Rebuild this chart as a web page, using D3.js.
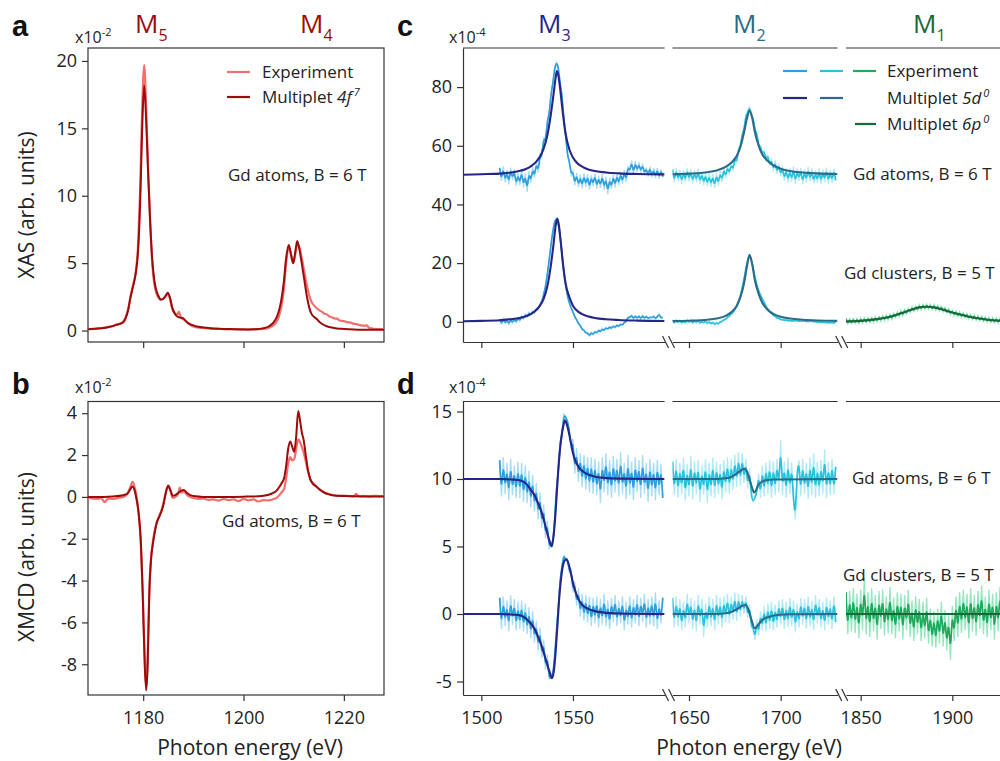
<!DOCTYPE html>
<html>
<head>
<meta charset="utf-8">
<script src="https://cdn.jsdelivr.net/npm/d3@7"></script>
<style>
  body { margin: 0; background: #fff; }
  svg { display: block; font-family: 'Open Sans', 'Noto Sans', sans-serif; }
  .axis text { font-size: 18px; fill: #222; font-family: 'Open Sans', sans-serif; }
  .axis path, .axis line { stroke: #333; stroke-width: 1.2; }
  .frame { fill: none; stroke: #333; stroke-width: 1.2; }
</style>
</head>
<body>
<div id="chart"></div>
<script>
// ---------- panel a: XAS M4,5 (x10^-2) ----------
const xasMultiplet = [
  [1169,0.1],[1171,0.15],[1173,0.25],[1174.5,0.4],[1176,0.6],[1176.5,0.9],[1177,1.5],[1177.5,2.5],[1178,3.3],[1178.5,4.2],
  [1179,6.0],[1179.4,9.5],[1179.8,15.0],[1180.2,18.2],[1180.6,15.5],[1181,11.5],[1181.4,8.0],[1181.8,5.3],[1182.2,3.8],[1182.6,3.0],
  [1183,2.6],[1183.5,2.3],[1184,2.35],[1184.5,2.6],[1184.9,2.8],[1185.3,2.5],[1185.8,1.7],[1186.3,1.25],[1187,1.0],[1187.5,0.95],
  [1188,0.9],[1188.5,0.7],[1189,0.55],[1190,0.38],[1191,0.28],[1192,0.22],[1194,0.16],[1196,0.12],[1198,0.1],[1200,0.08],
  [1202,0.1],[1203,0.12],[1204,0.18],[1205,0.3],[1206,0.6],[1206.5,0.9],[1207,1.4],[1207.5,2.2],[1208,3.5],[1208.5,5.4],
  [1209,6.35],[1209.4,5.8],[1209.9,5.0],[1210.3,5.8],[1210.7,6.65],[1211.1,6.1],[1211.6,5.0],[1212.1,3.8],[1212.6,2.6],[1213.1,1.7],
  [1213.6,1.2],[1214.1,1.0],[1214.6,0.85],[1215.1,0.65],[1215.6,0.5],[1216.6,0.32],[1217.6,0.22],[1218.6,0.16],[1220,0.12],[1222,0.08],
  [1224,0.06],[1226,0.05],[1228,0.05]
];
const xasExperiment = [
  [1169,0.12],[1170,0.1],[1171,0.16],[1172,0.2],[1173,0.27],[1174,0.33],[1174.5,0.42],[1175,0.45],[1176,0.65],[1176.5,1.0],
  [1177,1.6],[1177.5,2.6],[1178,3.4],[1178.5,4.3],[1179,6.5],[1179.4,10.5],[1179.8,16.5],[1180.2,19.7],[1180.6,16.5],[1181,11.8],
  [1181.4,8.0],[1181.8,5.0],[1182.2,3.5],[1182.6,2.8],[1183,2.45],[1183.5,2.3],[1184,2.35],[1184.5,2.55],[1184.9,2.7],[1185.3,2.4],
  [1185.8,1.6],[1186.3,1.3],[1186.8,1.2],[1187.1,1.4],[1187.5,1.0],[1188,0.85],[1188.5,0.7],[1189,0.5],[1190,0.3],[1191,0.22],
  [1192,0.2],[1193,0.15],[1194,0.12],[1195,0.13],[1196,0.1],[1197,0.09],[1198,0.11],[1199,0.08],[1200,0.1],[1201,0.07],
  [1202,0.08],[1203,0.1],[1204,0.12],[1205,0.2],[1206,0.4],[1206.5,0.6],[1207,1.0],[1207.5,1.7],[1208,2.9],[1208.5,5.0],
  [1209,6.2],[1209.4,5.7],[1209.9,5.0],[1210.3,5.6],[1210.7,6.4],[1211.1,6.2],[1211.6,5.4],[1212.1,4.4],[1212.6,3.4],[1213.1,2.6],
  [1213.6,2.1],[1214.1,1.85],[1214.6,1.65],[1215.1,1.5],[1215.6,1.4],[1216.1,1.25],[1216.6,1.2],[1217.1,1.05],[1217.6,0.98],[1218.1,0.9],
  [1218.6,0.88],[1219.2,0.75],[1220,0.7],[1220.6,0.62],[1221.2,0.6],[1222,0.5],[1222.6,0.48],[1223.2,0.4],[1224,0.36],[1224.6,0.38],
  [1225,0.2],[1226,0.12],[1227,0.1],[1228,0.1]
];

// ---------- panel b: XMCD M4,5 (x10^-2) ----------
const xmcdMultiplet = [
  [1169,0],[1172,0],[1174,0.02],[1176,0.08],[1176.8,0.15],[1177.4,0.35],[1177.9,0.5],[1178.3,0.3],[1178.7,-0.15],[1179.1,-0.8],
  [1179.5,-2.0],[1179.9,-4.6],[1180.3,-8.0],[1180.6,-9.25],[1180.9,-8.0],[1181.2,-4.8],[1181.6,-2.9],[1181.9,-2.3],[1182.3,-1.7],[1182.7,-1.25],
  [1183.2,-0.95],[1183.7,-0.65],[1184.1,-0.3],[1184.5,0.2],[1185,0.55],[1185.4,0.35],[1185.9,0.05],[1186.4,0.08],[1187,0.2],[1187.6,0.3],
  [1188.1,0.33],[1188.7,0.2],[1189.3,0.1],[1190,0.04],[1192,0],[1196,0],[1200,0.01],[1203,0.03],[1204,0.05],[1205,0.1],
  [1206,0.2],[1206.6,0.3],[1207.2,0.5],[1207.7,0.7],[1208.1,0.9],[1208.5,1.5],[1208.9,2.3],[1209.3,2.65],[1209.7,2.4],[1210.1,2.15],
  [1210.5,2.9],[1210.9,4.1],[1211.3,3.6],[1211.6,3.1],[1212,2.7],[1212.4,2.0],[1212.8,1.35],[1213.3,0.85],[1213.9,0.6],[1214.5,0.5],
  [1215.2,0.35],[1216,0.22],[1217,0.12],[1218,0.07],[1220,0.04],[1224,0.02],[1228,0.02]
];
const xmcdExperiment = [
  [1169,-0.05],[1170,-0.08],[1171,-0.1],[1171.6,-0.05],[1172.3,-0.25],[1173,-0.08],[1174,-0.1],[1175,-0.05],[1176,0.0],[1176.8,0.12],
  [1177.4,0.45],[1177.9,0.72],[1178.3,0.45],[1178.7,0.0],[1179.1,-0.8],[1179.5,-2.1],[1179.9,-4.5],[1180.3,-7.6],[1180.6,-9.05],[1180.9,-7.5],
  [1181.2,-4.6],[1181.6,-2.8],[1181.9,-2.2],[1182.3,-1.6],[1182.7,-1.2],[1183.2,-0.9],[1183.7,-0.6],[1184.1,-0.25],[1184.5,0.2],[1185,0.5],
  [1185.4,0.3],[1185.9,-0.05],[1186.4,0.0],[1187,0.15],[1187.3,0.45],[1187.6,0.2],[1188.1,0.25],[1188.7,0.1],[1189.3,0.0],[1190,-0.05],
  [1191,-0.1],[1192,-0.08],[1193,-0.14],[1194,-0.12],[1195,-0.18],[1196,-0.1],[1197,-0.15],[1198,-0.12],[1199,-0.2],[1200,-0.1],
  [1201,-0.16],[1202,-0.12],[1203,-0.22],[1204,-0.15],[1205,-0.17],[1206,-0.1],[1206.6,-0.05],[1207.2,0.1],[1207.7,0.25],[1208.1,0.4],
  [1208.5,0.9],[1208.9,1.6],[1209.3,1.9],[1209.7,1.75],[1210.1,1.8],[1210.5,2.3],[1210.9,2.75],[1211.3,2.6],[1211.6,2.4],[1212,2.1],
  [1212.4,1.7],[1212.8,1.25],[1213.3,0.85],[1213.9,0.65],[1214.5,0.5],[1215.2,0.35],[1216,0.22],[1217,0.14],[1218,0.08],[1219,0.05],
  [1220,0.06],[1221,0.04],[1222,0.02],[1222.4,0.15],[1223,0.03],[1224,0.05],[1225,0.02],[1226,0.05],[1227,0.04],[1228,0.05]
];

// ---------- panels c, d: M1,2,3 edges (x10^-4), experiment on 1 eV grids ----------
const m3Energies = d3.range(1510, 1600);   // 90 points
const m2Energies = d3.range(1641, 1731);   // 90 points
const m1Energies = d3.range(1842, 1928);   // 86 points

const xasM3AtomsExp = [
  52.5,48.0,53.0,47.5,51.8,46.8,52.6,48.4,52.0,46.2, 50.8,46.5,51.9,45.8,50.6,44.2,51.5,47.3,52.8,49.0,
  54.5,50.8,57.0,56.0,63.0,61.0,68.5,70.5,77.5,81.0, 86.5,88.5,87.0,81.0,77.5,69.0,64.0,56.5,55.0,50.0,
  51.5,46.5,50.8,45.8,50.2,45.5,50.6,46.0,50.3,45.0, 50.0,46.2,50.6,45.4,49.8,45.6,50.5,45.0,49.6,43.5,
  49.2,45.3,50.2,45.8,50.6,46.4,51.2,47.0,51.8,47.6, 53.2,51.0,55.0,50.2,54.8,51.0,54.4,50.8,53.9,50.3,
  52.6,49.5,53.0,49.2,52.4,49.0,52.5,48.8,51.9,49.4
];
const xasM3ClustersExp = [
  0.9,-0.8,1.0,-0.6,0.7,-0.9,0.9,-0.5,1.1,-0.3, 1.4,0.2,2.0,0.9,2.6,1.6,3.2,2.3,3.7,3.0,
  4.6,4.2,5.9,6.8,9.2,11.8,16.2,20.8,26.2,30.8, 34.2,35.3,33.6,29.0,23.2,17.0,12.6,8.7,6.5,4.7,
  3.4,1.6,0.8,-0.7,-1.2,-2.7,-2.8,-3.9,-3.8,-4.9, -3.6,-4.5,-3.2,-4.0,-2.7,-3.5,-2.3,-3.1,-1.9,-2.7,
  -1.6,-2.4,-1.3,-2.1,-1.0,-1.7,-0.7,-1.2,-0.2,0.0, 1.6,1.4,2.3,0.9,2.2,1.0,2.2,0.8,2.3,1.0,
  2.0,1.0,1.6,1.3,2.0,1.0,1.7,2.7,1.2,1.5
];
const xasM2AtomsExp = [
  52.0,47.5,52.4,47.9,51.8,47.0,51.6,47.6,52.5,47.8, 52.0,47.2,51.6,47.6,52.2,47.0,51.2,46.6,50.8,46.2,
  50.6,46.0,50.3,45.6,50.8,46.4,51.4,47.6,52.6,49.0, 53.2,50.2,54.0,51.4,56.0,54.0,59.2,59.5,64.0,65.2,
  70.5,71.0,73.5,70.2,69.5,65.0,64.5,59.8,60.0,57.0, 58.4,55.2,57.0,53.2,55.6,51.4,55.0,50.4,54.0,49.6,
  53.2,48.0,52.6,47.4,52.4,47.6,53.0,47.0,52.2,48.0, 52.4,46.8,52.0,47.5,52.8,47.8,52.2,47.2,51.6,47.4,
  52.4,47.0,52.0,47.6,52.6,47.2,51.8,47.4,52.2,48.2
];
const xasM2ClustersExp = [
  0.6,-0.6,0.8,-0.4,0.7,-0.7,0.5,-0.5,0.8,-0.3, 0.7,-0.6,0.6,-0.4,0.7,-0.7,0.4,-0.6,0.5,-0.8,
  0.2,-0.9,0.0,-1.1,-0.1,-1.0,0.1,0.0,0.7,0.8, 1.6,1.8,2.8,3.1,4.4,5.1,6.9,8.7,11.5,14.5,
  18.0,21.0,22.6,21.4,18.2,15.0,12.5,10.5,9.1,7.7, 6.7,5.0,4.5,3.2,3.0,2.0,2.0,1.2,1.3,0.7,
  0.8,0.5,0.6,0.3,0.5,0.2,0.4,0.3,0.5,0.1, 0.3,0.2,0.4,0.0,0.2,0.1,0.3,0.0,0.1,-0.1,
  -0.1,-0.1,-0.2,-0.2,-0.3,-0.3,-0.4,-0.2,-0.5,0.0
];
const xasM1ClustersExp = [
  1.0,-0.7,1.0,-0.6,1.1,-0.5,1.1,-0.6,1.2,-0.5, 1.3,-0.4,1.4,-0.3,1.5,-0.2,1.7,0.0,1.9,0.2,
  2.1,0.4,2.3,0.7,2.6,0.9,2.9,1.4,3.3,1.8, 3.8,2.1,4.2,2.6,4.6,3.1,5.1,3.5,5.4,3.9,
  5.8,4.1,5.9,4.2,6.0,4.3,5.9,4.1,5.8,4.0, 5.6,3.7,5.3,3.4,4.9,3.0,4.5,2.5,4.0,2.1,
  3.7,1.8,3.4,1.5,3.1,1.3,2.8,1.0,2.5,0.7, 2.3,0.5,2.1,0.3,1.9,0.1,1.7,-0.1,1.5,-0.3,
  1.4,-0.4,1.3,-0.5,1.2,-0.5
];

const xasM3AtomsMult = [
  [1490,50.1],[1500,50.3],[1510,50.5],[1515,50.8],[1520,51.3],[1524,52.0],[1527,53.0],[1530,54.6],[1532,56.3],[1534,59.0],
  [1536,63.5],[1538,71],[1539.5,78],[1540.5,83],[1541.2,85.5],[1542,84],[1543,79.5],[1544.5,71],[1546,64],[1548,58.8],
  [1550,56],[1552,54.3],[1555,52.9],[1558,52.0],[1562,51.4],[1568,50.9],[1575,50.6],[1585,50.4],[1600,50.25]
];
const xasM3ClustersMult = [
  [1490,0.15],[1500,0.3],[1510,0.5],[1515,0.8],[1520,1.2],[1524,1.8],[1527,2.6],[1530,4.0],[1532,5.5],[1534,7.8],
  [1536,12],[1538,19.5],[1539.5,27],[1540.5,32.5],[1541.4,35.2],[1542.3,33],[1543.3,27.5],[1544.5,20],[1546,13],[1548,8.5],
  [1550,5.5],[1552,3.9],[1555,2.6],[1558,1.9],[1562,1.3],[1568,0.85],[1575,0.6],[1585,0.4],[1600,0.25]
];
const xasM2AtomsMult = [
  [1641,50.3],[1650,50.5],[1660,51.0],[1665,51.6],[1670,52.8],[1673,54.2],[1676,56.5],[1678,59.5],[1680,64.5],[1681.5,69],
  [1683,72],[1684.5,69.5],[1686,64.5],[1688,60],[1690,57],[1693,54.8],[1696,53.3],[1700,52.2],[1705,51.4],[1712,50.9],
  [1720,50.6],[1731,50.35]
];
const xasM2ClustersMult = [
  [1641,0.2],[1650,0.35],[1660,0.7],[1665,1.1],[1670,2.0],[1673,3.2],[1676,5.4],[1678,8.3],[1680,13],[1681.5,18.5],
  [1683,22.8],[1684.5,19.5],[1686,14],[1688,9.5],[1690,6.5],[1693,4.0],[1696,2.7],[1700,1.7],[1705,1.1],[1712,0.7],
  [1720,0.45],[1731,0.3]
];
const xasM1ClustersMult = [
  [1842,0.1],[1850,0.3],[1858,0.8],[1866,1.7],[1872,2.9],[1878,4.2],[1882,4.9],[1886,5.1],[1890,4.9],[1894,4.3],
  [1898,3.5],[1902,2.8],[1906,2.2],[1910,1.6],[1916,1.0],[1922,0.5],[1930,0.3]
];

const xmcdM3AtomsExp = [
  11.4,8.7,11.6,8.9,11.2,8.4,11.5,8.8,11.0,8.6, 11.3,8.6,11.2,8.3,11.0,8.2,10.6,7.9,10.3,7.6,
  9.7,7.0,9.0,6.4,8.1,5.6,6.9,4.8,5.4,5.0, 6.9,9.4,10.4,12.8,13.1,14.8,14.6,14.3,13.6,12.2,
  13.0,10.4,12.3,9.8,11.9,9.4,11.8,9.2,11.6,9.0, 11.6,8.9,11.5,8.8,11.3,8.2,11.6,9.0,11.9,8.8,
  11.4,8.6,11.7,9.0,11.5,8.7,12.0,8.9,11.2,8.5, 11.8,8.8,11.3,8.4,11.6,9.0,11.4,8.6,11.8,8.9,
  11.2,8.3,11.5,8.7,11.2,8.4,11.4,8.8,11.1,8.6
];
const xmcdM3ClustersExp = [
  1.2,-1.1,1.3,-0.9,1.0,-1.3,1.4,-0.8,1.1,-1.2, 0.9,-1.1,1.0,-1.3,0.8,-1.5,0.5,-1.8,0.2,-2.1,
  -0.5,-2.7,-1.0,-3.3,-1.9,-4.1,-3.0,-4.8,-4.7,-4.5, -3.3,-1.2,0.3,2.6,3.5,4.4,4.0,4.1,3.1,3.3,
  1.6,2.4,0.6,1.9,-0.2,1.5,-0.5,1.4,-0.6,1.3, -0.9,1.2,-0.7,1.3,-1.0,1.1,-0.8,1.5,-0.9,1.0,
  -1.1,1.2,-0.6,1.4,-0.9,1.0,-0.7,1.3,-1.2,0.9, -0.8,1.3,-1.0,1.1,-0.7,1.4,-0.9,1.2,-0.6,1.5,
  -1.0,1.1,-0.8,1.3,-0.9,1.6,-1.1,1.0,-0.7,1.2
];
const xmcdM2AtomsExp = [
  11.3,8.8,11.5,8.6,11.2,8.9,11.6,8.4,11.1,8.7, 11.7,8.5,11.3,8.9,11.4,8.3,11.0,8.8,11.5,8.2,
  11.2,8.7,11.6,8.6,11.3,8.9,11.1,8.5,11.4,9.0, 11.6,8.9,11.5,9.2,11.8,9.4,12.0,9.5,11.9,9.7,
  11.5,9.3,10.8,8.7,8.3,8.6,9.0,10.4,8.6,11.0, 8.7,11.2,8.9,11.4,8.6,11.3,8.8,11.5,9.0,12.9,
  8.8,11.3,8.6,11.6,8.9,11.2,8.4,7.0,10.6,11.4, 8.7,11.5,8.9,11.2,8.5,11.6,8.8,11.9,8.6,11.3,
  8.7,11.4,8.9,12.2,8.6,11.3,8.8,11.5,8.9,10.9
];
const xmcdM2ClustersExp = [
  1.2,-1.0,1.3,-0.9,1.1,-1.2,0.9,-1.0,1.5,-0.7, 1.2,-1.1,1.0,-1.3,1.4,-0.8,1.1,-1.7,0.8,-1.0,
  1.3,-0.9,1.1,-1.2,1.4,-0.8,1.2,-1.0,1.3,-0.6, 1.5,-0.7,1.3,-0.4,1.6,-0.5,1.5,-0.2,1.4,0.0,
  1.3,-0.3,0.7,-1.0,-0.9,-1.9,-0.4,-1.6,0.2,-1.2, 0.6,-1.3,0.8,-1.1,0.9,-1.2,0.7,-1.0,1.0,-0.8,
  1.1,-1.1,0.9,-1.0,1.2,-0.9,1.0,-1.3,0.8,-1.0, 1.2,-0.8,1.1,-1.1,1.3,-0.9,1.0,-1.2,1.4,-0.7,
  1.1,-1.0,0.9,-1.2,1.2,-0.8,1.0,-1.1,1.3,-0.6
];
const xmcdM1ClustersExp = [
  1.6,-1.5,1.7,-1.3,1.9,-1.4,1.5,-1.8,1.8,-1.2, 2.7,-1.5,1.6,-1.7,1.9,-1.3,1.4,-1.9,1.7,-1.1,
  1.8,-1.6,1.3,-1.4,2.0,-1.5,1.2,-1.8,1.6,-1.3, 1.5,-1.9,1.4,-1.2,1.8,-1.7,1.0,-2.0,1.3,-1.5,
  1.1,-2.0,0.9,-1.8,1.2,-2.2,0.4,-2.4,0.2,-2.5, 0.4,-2.2,0.9,-2.4,0.3,-2.7,0.0,-3.4,0.6,-2.0,
  1.3,-1.7,1.6,-1.4,1.8,-1.2,1.5,-1.8,1.9,-1.3, 1.4,-1.6,1.7,-1.1,2.1,-1.5,1.3,-1.7,1.8,-1.2,
  1.5,-1.9,1.6,-1.3,2.0,-1.1
];

const xmcdM3AtomsMult = [
  [1490,10],[1510,10],[1518,9.95],[1521,9.9],[1524,9.7],[1527,9.2],[1529,8.8],[1531,8.2],[1533,7.5],[1535,6.5],
  [1537,5.5],[1538.4,5.0],[1539.5,5.9],[1540.6,7.7],[1541.3,9.2],[1542,10.7],[1543,12.3],[1544,13.4],[1545,14.1],[1545.6,14.35],
  [1546.5,14.1],[1548,13.3],[1549,12.6],[1550,11.9],[1551.5,11.3],[1553,10.9],[1556,10.5],[1559,10.3],[1563,10.15],[1567,10.08],
  [1575,10.03],[1600,10]
];
const xmcdM3ClustersMult = [
  [1490,0],[1510,0],[1518,-0.05],[1521,-0.1],[1524,-0.3],[1527,-0.7],[1529,-1.1],[1531,-1.7],[1533,-2.4],[1535,-3.3],
  [1537,-4.2],[1538.6,-4.75],[1539.6,-4.2],[1540.6,-2.7],[1541.5,-0.9],[1542.4,1.0],[1543.4,2.5],[1544.4,3.5],[1545.4,3.95],[1546.4,4.05],
  [1547.4,3.8],[1548.4,3.3],[1549.7,2.5],[1551,1.8],[1553,1.1],[1555,0.67],[1558,0.4],[1561,0.25],[1566,0.12],[1575,0.04],
  [1600,0]
];
const xmcdM2AtomsMult = [
  [1641,10],[1665,10],[1670,10.05],[1673,10.15],[1676,10.4],[1678.5,10.65],[1680.4,10.76],[1681.8,10.5],[1683,10.0],[1684.3,9.4],
  [1685.5,9.0],[1686.7,9.2],[1688,9.6],[1690,9.8],[1692,9.9],[1696,9.96],[1731,10]
];
const xmcdM2ClustersMult = [
  [1641,0],[1665,0],[1670,0.05],[1673,0.15],[1676,0.35],[1679,0.6],[1681,0.67],[1682.5,0.3],[1684,-0.4],[1685.9,-1.06],
  [1687.5,-0.85],[1689,-0.57],[1691,-0.35],[1694,-0.2],[1698,-0.08],[1705,-0.02],[1731,0]
];
const xmcdM1ClustersMult = [[1842,0],[1930,0]];

// tick values
const xTicksAB = [1180, 1200, 1220];
const yTicksA = [0, 5, 10, 15, 20];
const yTicksB = [-8, -6, -4, -2, 0, 2, 4];
const yTicksC = [0, 20, 40, 60, 80];
const yTicksD = [-5, 0, 5, 10, 15];

// colours
const red = { exp: '#f46e6e', mult: '#9c0b0b' };
const edgeColors = {
  M3: { light: '#a8dcf4', exp: '#2c9fdc', mult: '#262688' },
  M2: { light: '#b0eaf5', exp: '#27c3dc', mult: '#2b6b8a' },
  M1: { light: '#93e6bd', exp: '#1fa95c', mult: '#15693a' }
};

// ---------------- layout ----------------
const W = 1000, H = 761;
const svg = d3.select('#chart').append('svg').attr('width', W).attr('height', H);
svg.append('rect').attr('width', W).attr('height', H).attr('fill', '#fff');
const defs = svg.append('defs');
let clipId = 0;
function clip(x0, y0, w, h) {
  const id = 'clip' + (clipId++);
  defs.append('clipPath').attr('id', id).append('rect')
    .attr('x', x0).attr('y', y0).attr('width', w).attr('height', h);
  return `url(#${id})`;
}

const boxA = { left: 88, right: 384, top: 48, bottom: 342 };
const boxB = { left: 88, right: 384, top: 401.5, bottom: 695 };

const xAB = d3.scaleLinear().domain([1169, 1228]).range([boxA.left, boxA.right]);
const yA = d3.scaleLinear().domain([-0.85, 20.96]).range([boxA.bottom, boxA.top]);
const yB = d3.scaleLinear().domain([-9.47, 4.56]).range([boxB.bottom, boxB.top]);

const segs = [
  { domain: [1490, 1600], range: [463, 664.6], ticks: [1500, 1550] },
  { domain: [1641, 1731], range: [672.5, 837.5], ticks: [1650, 1700] },
  { domain: [1842, 1930], range: [846, 1007.3], ticks: [1850, 1900] }
];
segs.forEach(s => { s.x = d3.scaleLinear().domain(s.domain).range(s.range); });
const yC = d3.scaleLinear().domain([-6.9, 93.33]).range([342, 48]);
const yD = d3.scaleLinear().domain([-6.0, 15.74]).range([695, 401.5]);

const FONT = "'Open Sans', 'Noto Sans', sans-serif";
const fmtY = d => d < 0 ? '-' + Math.abs(d) : String(d);
const fmtX = d3.format('d');

function txt(x, y, s, opts = {}) {
  return svg.append('text').attr('x', x).attr('y', y)
    .attr('font-size', opts.size || 17)
    .attr('font-weight', opts.weight || 'normal')
    .attr('fill', opts.color || '#222')
    .attr('text-anchor', opts.anchor || 'start')
    .style('font-family', FONT)
    .text(s);
}

// ---------- panels a, b ----------
function drawBoxPanel(box, y, yTicks, showXLabels, series) {
  svg.append('rect').attr('class', 'frame')
    .attr('x', box.left).attr('y', box.top)
    .attr('width', box.right - box.left).attr('height', box.bottom - box.top);

  const gy = svg.append('g').attr('class', 'axis')
    .attr('transform', `translate(${box.left},0)`)
    .call(d3.axisLeft(y).tickValues(yTicks).tickSize(6).tickSizeOuter(0).tickPadding(5).tickFormat(fmtY));
  gy.select('.domain').remove();

  const gx = svg.append('g').attr('class', 'axis')
    .attr('transform', `translate(0,${box.bottom})`)
    .call(d3.axisBottom(xAB).tickValues(xTicksAB).tickSize(6).tickSizeOuter(0).tickPadding(10).tickFormat(fmtX));
  gx.select('.domain').remove();
  if (!showXLabels) gx.selectAll('text').remove();

  const cp = clip(box.left, box.top, box.right - box.left, box.bottom - box.top);
  const g = svg.append('g').attr('clip-path', cp);
  series.forEach(s => {
    g.append('path').datum(s.data)
      .attr('fill', 'none').attr('stroke', s.color).attr('stroke-width', s.width)
      .attr('stroke-linejoin', 'round')
      .attr('d', d3.line().x(d => xAB(d[0])).y(d => y(d[1])).curve(d3.curveMonotoneX));
  });
}

drawBoxPanel(boxA, yA, yTicksA, false, [
  { data: xasExperiment, color: red.exp, width: 2.2 },
  { data: xasMultiplet, color: red.mult, width: 2 }
]);
drawBoxPanel(boxB, yB, yTicksB, true, [
  { data: xmcdExperiment, color: red.exp, width: 2.2 },
  { data: xmcdMultiplet, color: red.mult, width: 2 }
]);

// ---------- panels c, d (broken x axis) ----------
function drawBrokenPanel(y, top, bottom, yTicks, showXLabels, series) {
  svg.append('g').attr('class', 'axis')
    .attr('transform', `translate(${segs[0].range[0]},0)`)
    .call(d3.axisLeft(y).tickValues(yTicks).tickSize(6).tickSizeOuter(0).tickPadding(5).tickFormat(fmtY));

  segs.forEach((s, i) => {
    svg.append('line').attr('class', 'frame')
      .attr('x1', s.range[0]).attr('x2', s.range[1]).attr('y1', top).attr('y2', top);
    const gx = svg.append('g').attr('class', 'axis')
      .attr('transform', `translate(0,${bottom})`)
      .call(d3.axisBottom(s.x).tickValues(s.ticks).tickSize(6).tickSizeOuter(0).tickPadding(10).tickFormat(fmtX));
    if (!showXLabels) gx.selectAll('text').remove();
    if (i > 0) {
      const cx = (segs[i - 1].range[1] + s.range[0]) / 2;
      [-3, 3].forEach(o => {
        svg.append('line').attr('stroke', '#333').attr('stroke-width', 1.2)
          .attr('x1', cx + o - 3).attr('y1', bottom - 6)
          .attr('x2', cx + o + 3).attr('y2', bottom + 6);
      });
    }
  });

  series.forEach(s => {
    const seg = segs[s.seg];
    const cp = clip(seg.range[0], top, seg.range[1] - seg.range[0], bottom - top);
    const g = svg.append('g').attr('clip-path', cp);
    if (s.energies) {
      const pts = s.energies.map((e, i) => [e, s.values[i]]);
      g.append('path').datum(pts)
        .attr('fill', 'none').attr('stroke', s.colors.light).attr('stroke-width', 1.3)
        .attr('d', d3.line().x(d => seg.x(d[0])).y(d => y(d[1])));
      g.append('path').datum(pts)
        .attr('fill', 'none').attr('stroke', s.colors.exp).attr('stroke-width', 1.7)
        .attr('stroke-linejoin', 'round')
        .attr('d', d3.line().x(d => seg.x(d[0])).y(d => y(d[1])).curve(d3.curveBasis));
    } else {
      g.append('path').datum(s.values)
        .attr('fill', 'none').attr('stroke', s.colors.mult).attr('stroke-width', 2.1)
        .attr('stroke-linejoin', 'round')
        .attr('d', d3.line().x(d => seg.x(d[0])).y(d => y(d[1])).curve(d3.curveMonotoneX));
    }
  });
}

drawBrokenPanel(yC, 48, 342, yTicksC, false, [
  { seg: 0, energies: m3Energies, values: xasM3AtomsExp, colors: edgeColors.M3 },
  { seg: 0, energies: m3Energies, values: xasM3ClustersExp, colors: edgeColors.M3 },
  { seg: 1, energies: m2Energies, values: xasM2AtomsExp, colors: edgeColors.M2 },
  { seg: 1, energies: m2Energies, values: xasM2ClustersExp, colors: edgeColors.M2 },
  { seg: 2, energies: m1Energies, values: xasM1ClustersExp, colors: edgeColors.M1 },
  { seg: 0, values: xasM3AtomsMult, colors: edgeColors.M3 },
  { seg: 0, values: xasM3ClustersMult, colors: edgeColors.M3 },
  { seg: 1, values: xasM2AtomsMult, colors: edgeColors.M2 },
  { seg: 1, values: xasM2ClustersMult, colors: edgeColors.M2 },
  { seg: 2, values: xasM1ClustersMult, colors: edgeColors.M1 }
]);
drawBrokenPanel(yD, 401.5, 695, yTicksD, true, [
  { seg: 0, energies: m3Energies, values: xmcdM3AtomsExp, colors: edgeColors.M3 },
  { seg: 0, energies: m3Energies, values: xmcdM3ClustersExp, colors: edgeColors.M3 },
  { seg: 1, energies: m2Energies, values: xmcdM2AtomsExp, colors: edgeColors.M2 },
  { seg: 1, energies: m2Energies, values: xmcdM2ClustersExp, colors: edgeColors.M2 },
  { seg: 2, energies: m1Energies, values: xmcdM1ClustersExp, colors: edgeColors.M1 },
  { seg: 0, values: xmcdM3AtomsMult, colors: edgeColors.M3 },
  { seg: 0, values: xmcdM3ClustersMult, colors: edgeColors.M3 },
  { seg: 1, values: xmcdM2AtomsMult, colors: edgeColors.M2 },
  { seg: 1, values: xmcdM2ClustersMult, colors: edgeColors.M2 },
  { seg: 2, values: xmcdM1ClustersMult, colors: edgeColors.M1 }
]);

// ---------- text ----------
[['a', 12, 36], ['b', 12, 394], ['c', 397, 36], ['d', 397, 394]].forEach(([s, x, y]) =>
  txt(x, y, s, { size: 29, weight: 'bold', color: '#111' }).style('font-family', "'Liberation Sans', Arial, sans-serif"));

function scaleLabel(x, y, exp) {
  const t = txt(x, y, 'x10', { size: 16 });
  t.append('tspan').attr('dy', -7).attr('font-size', 11).text(exp);
}
scaleLabel(75, 43, '-2');
scaleLabel(75, 393, '-2');
scaleLabel(449, 43, '-4');
scaleLabel(449, 393, '-4');

function edgeLabel(x, sub, color) {
  const t = txt(x, 33, 'M', { size: 26, color });
  t.append('tspan').attr('dy', 8).attr('font-size', 16).text(sub);
}
edgeLabel(135, '5', red.mult);
edgeLabel(300, '4', red.mult);
edgeLabel(538, '3', edgeColors.M3.mult);
edgeLabel(733, '2', edgeColors.M2.mult);
edgeLabel(913, '1', edgeColors.M1.mult);

// axis titles
svg.append('text').attr('transform', 'translate(26,205) rotate(-90)')
  .attr('text-anchor', 'middle').attr('dominant-baseline', 'central')
  .attr('font-size', 21).attr('fill', '#222').style('font-family', FONT).text('XAS (arb. units)');
svg.append('text').attr('transform', 'translate(26,557) rotate(-90)')
  .attr('text-anchor', 'middle').attr('dominant-baseline', 'central')
  .attr('font-size', 21).attr('fill', '#222').style('font-family', FONT).text('XMCD (arb. units)');
txt(250, 755, 'Photon energy (eV)', { size: 21, anchor: 'middle' });
txt(749, 755, 'Photon energy (eV)', { size: 21, anchor: 'middle' });

// legends
function legendLine(x1, x2, y, color) {
  svg.append('line').attr('x1', x1).attr('x2', x2).attr('y1', y).attr('y2', y)
    .attr('stroke', color).attr('stroke-width', 2.2);
}
function multLabel(x, y, orb, sup) {
  const t = txt(x, y, 'Multiplet ', { size: 17 });
  t.append('tspan').attr('font-style', 'italic').text(orb);
  t.append('tspan').attr('font-style', 'italic').attr('dx', 2).attr('dy', -7).attr('font-size', 11).text(sup);
}
legendLine(227, 250, 72, red.exp);
txt(262, 78, 'Experiment', { size: 17 });
legendLine(227, 250, 97, red.mult);
multLabel(262, 103, '4f', '7');

legendLine(783, 807, 71, edgeColors.M3.exp);
legendLine(820, 843, 71, edgeColors.M2.exp);
legendLine(853, 876, 71, edgeColors.M1.exp);
txt(887, 77, 'Experiment', { size: 17 });
legendLine(783, 807, 98, edgeColors.M3.mult);
legendLine(820, 843, 98, edgeColors.M2.mult);
multLabel(887, 104, '5d', '0');
legendLine(855, 876, 124, edgeColors.M1.mult);
multLabel(887, 130, '6p', '0');

// annotations
txt(228, 181, 'Gd atoms, B = 6 T');
txt(222, 527, 'Gd atoms, B = 6 T');
txt(853, 180, 'Gd atoms, B = 6 T');
txt(844, 279, 'Gd clusters, B = 5 T');
txt(852, 484, 'Gd atoms, B = 6 T');
txt(843, 581, 'Gd clusters, B = 5 T');
</script>
</body>
</html>
